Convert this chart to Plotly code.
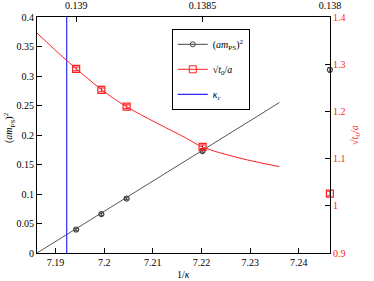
import plotly.graph_objects as go

# ---- data ----
kappa = [0.139, 0.1389, 0.1388, 0.1385]
inv_kappa = [1.0 / k for k in kappa]
amps2 = [0.0398, 0.0658, 0.0924, 0.1728]
amps2_err = [0.002, 0.002, 0.002, 0.002]
sqrt_t0 = [1.290, 1.2456, 1.210, 1.125]
sqrt_t0_err = [0.004, 0.004, 0.004, 0.004]

edge_kappa = [0.138]
edge_inv_kappa = [1.0 / k for k in edge_kappa]
edge_amps2 = [0.3105]
edge_amps2_err = [0.004]
edge_sqrt_t0 = [1.026]
edge_sqrt_t0_err = [0.005]

fit_amps2_x = [7.1862, 7.2360]
fit_amps2_y = [0.0, 0.255]

fit_t0_x = [7.1862, 7.1923, 7.1995, 7.2046, 7.2169, 7.2201, 7.2279, 7.2360]
fit_t0_y = [1.366, 1.308, 1.246, 1.210, 1.143, 1.125, 1.101, 1.083]

kappa_c_inv = [7.1923]

x_ticks = [7.19, 7.20, 7.21, 7.22, 7.23, 7.24]
x_ticktext = ["7.19", "7.2", "7.21", "7.22", "7.23", "7.24"]
top_kappa = [0.139, 0.1385, 0.138]
top_ticktext = ["0.139", "0.1385", "0.138"]
y_ticks = [0, 0.05, 0.1, 0.15, 0.2, 0.25, 0.3, 0.35, 0.4]
y_ticktext = ["0", "0.05", "0.1", "0.15", "0.2", "0.25", "0.3", "0.35", "0.4"]
y2_ticks = [0.9, 1.0, 1.1, 1.2, 1.3, 1.4]
y2_ticktext = ["0.9", "1", "1.1", "1.2", "1.3", "1.4"]

XR = [7.1862, 7.2464]
BLACK = "#444444"
RED = "#ff2020"
BLUE = "#2a2aff"
FONT = "'Liberation Serif', 'Times New Roman', serif"

fig = go.Figure()

# fits
fig.add_trace(go.Scatter(x=fit_amps2_x, y=fit_amps2_y, mode="lines",
                         line=dict(color="#555555", width=1), showlegend=False))
fig.add_trace(go.Scatter(x=fit_t0_x, y=fit_t0_y, mode="lines", yaxis="y2",
                         line=dict(color=RED, width=1, shape="spline"), showlegend=False))

# kappa_c line
fig.add_trace(go.Scatter(x=kappa_c_inv * 2, y=[0, 0.4], mode="lines",
                         line=dict(color=BLUE, width=1.2), showlegend=False))

# data points
fig.add_trace(go.Scatter(x=inv_kappa + edge_inv_kappa, y=amps2 + edge_amps2, mode="markers",
                         marker=dict(symbol="circle-open", size=5, color=BLACK, line=dict(width=1.2)),
                         error_y=dict(type="data", array=amps2_err + edge_amps2_err,
                                      color=BLACK, thickness=1, width=2),
                         cliponaxis=False, showlegend=False))
fig.add_trace(go.Scatter(x=inv_kappa + edge_inv_kappa, y=sqrt_t0 + edge_sqrt_t0, mode="markers", yaxis="y2",
                         marker=dict(symbol="square-open", size=7, color=RED, line=dict(width=1.2)),
                         error_y=dict(type="data", array=sqrt_t0_err + edge_sqrt_t0_err,
                                      color=RED, thickness=1, width=3),
                         cliponaxis=False, showlegend=False))

# legend entries
fig.add_trace(go.Scatter(x=[None], y=[None], mode="lines+markers", legendgroup="a",
                         name="(<i>am</i><sub>PS</sub>)<sup>2</sup>",
                         line=dict(color=BLACK, width=1),
                         marker=dict(symbol="circle-open", size=5, color=BLACK)))
fig.add_trace(go.Scatter(x=[None], y=[None], mode="lines+markers", legendgroup="b",
                         name="√<i>t</i><sub>0</sub>/<i>a</i>",
                         line=dict(color=RED, width=1),
                         marker=dict(symbol="square-open", size=7, color=RED)))
fig.add_trace(go.Scatter(x=[None], y=[None], mode="lines", legendgroup="c",
                         name="<i>κ</i><sub><i>c</i></sub>",
                         line=dict(color=BLUE, width=1.2)))

# top axis carrier
fig.add_trace(go.Scatter(x=XR, y=[None, None], xaxis="x2", mode="markers",
                         showlegend=False, hoverinfo="skip"))

axis_common = dict(ticks="inside", ticklen=5, tickcolor="black", showline=True,
                   linecolor="black", linewidth=1, showgrid=False, zeroline=False,
                   automargin=False)

fig.update_layout(
    width=374, height=281,
    margin=dict(l=37, r=44, t=17, b=28),
    paper_bgcolor="white", plot_bgcolor="white",
    font=dict(family=FONT, size=10, color="black"),
    showlegend=True,
    legend=dict(x=0.46, y=0.95, xanchor="left", yanchor="top",
                bordercolor="black", borderwidth=1, bgcolor="white",
                font=dict(family=FONT, size=10), tracegroupgap=6,
                itemwidth=30),
    xaxis=dict(range=XR, tickvals=x_ticks, ticktext=x_ticktext,
               tickfont=dict(family=FONT, size=10), **axis_common),
    xaxis2=dict(range=XR, overlaying="x", side="top",
                tickvals=[1.0 / k for k in top_kappa], ticktext=top_ticktext,
                ticklabelstandoff=3,
                tickfont=dict(family=FONT, size=10), **axis_common),
    yaxis=dict(range=[0, 0.4], tickvals=y_ticks, ticktext=y_ticktext,
               tickfont=dict(family=FONT, size=10), **axis_common),
    yaxis2=dict(range=[0.9, 1.4], overlaying="y", side="right",
                tickvals=y2_ticks, ticktext=y2_ticktext,
                tickfont=dict(family=FONT, size=10, color=RED), **axis_common),
    annotations=[
        dict(text="(<i>am</i><sub>PS</sub>)<sup>2</sup>", xref="paper", yref="paper",
             x=-0.095, y=0.53, textangle=-90, showarrow=False,
             xanchor="center", yanchor="middle", font=dict(family=FONT, size=10)),
        dict(text="√<i>t</i><sub>0</sub>/<i>a</i>", xref="paper", yref="paper",
             x=1.085, y=0.5, textangle=-90, showarrow=False,
             xanchor="center", yanchor="middle", font=dict(family=FONT, size=10, color=RED)),
        dict(text="1/<i>κ</i>", xref="paper", yref="paper",
             x=0.5, y=-0.09, showarrow=False, xanchor="center", yanchor="middle",
             font=dict(family=FONT, size=10)),
    ],
)

fig.write_html("out.html", config={"displayModeBar": False},
               post_script="document.body.style.margin='0px';")
